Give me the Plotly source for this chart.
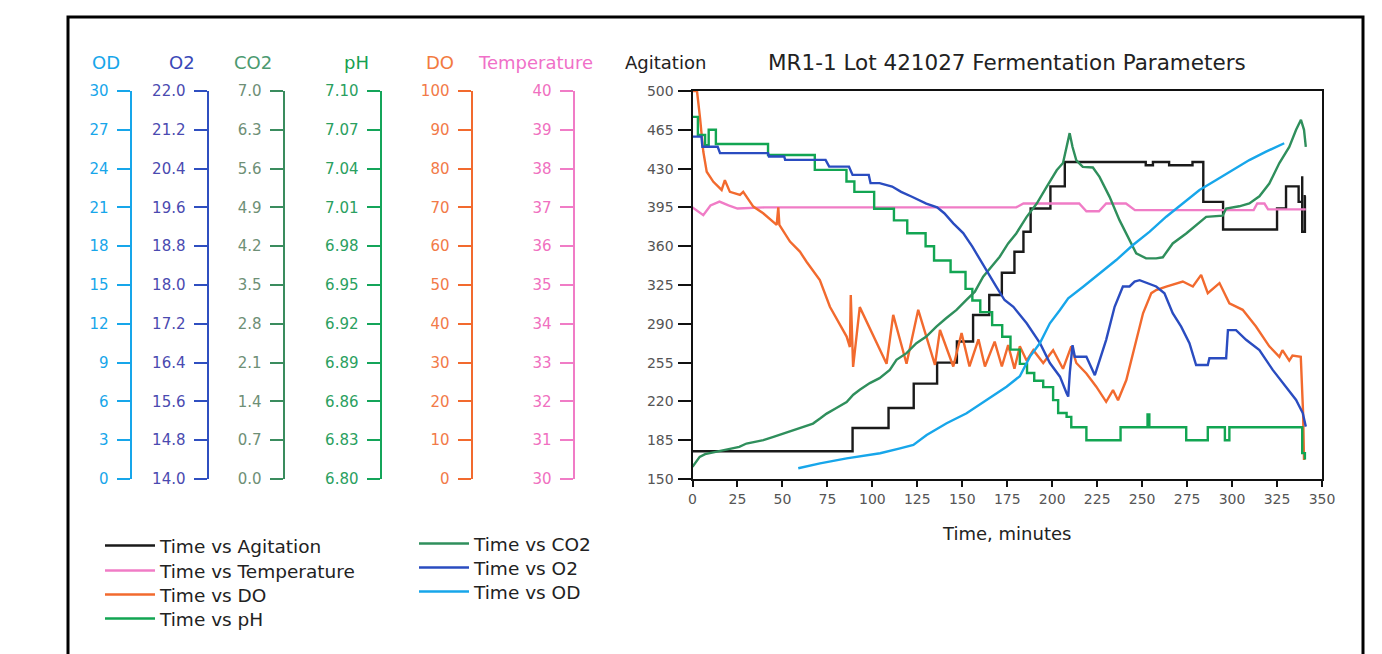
import plotly.graph_objects as go

# ---------------- data ----------------
time_ticks = [0, 25, 50, 75, 100, 125, 150, 175, 200, 225, 250, 275, 300, 325, 350]

agit_ticks = [150, 185, 220, 255, 290, 325, 360, 395, 430, 465, 500]
temp_ticks = [30, 31, 32, 33, 34, 35, 36, 37, 38, 39, 40]
do_ticks = [0, 10, 20, 30, 40, 50, 60, 70, 80, 90, 100]
ph_ticks = [6.80, 6.83, 6.86, 6.89, 6.92, 6.95, 6.98, 7.01, 7.04, 7.07, 7.10]
co2_ticks = [0.0, 0.7, 1.4, 2.1, 2.8, 3.5, 4.2, 4.9, 5.6, 6.3, 7.0]
o2_ticks = [14.0, 14.8, 15.6, 16.4, 17.2, 18.0, 18.8, 19.6, 20.4, 21.2, 22.0]
od_ticks = [0, 3, 6, 9, 12, 15, 18, 21, 24, 27, 30]

agit_t = [0, 89, 109, 123, 136, 147, 156, 165, 172, 179, 184, 188, 199, 207, 252,
          256, 265, 278, 284, 295, 325, 330, 337, 339, 339, 340.5, 341]
agit_v = [175, 196, 214, 236, 255, 274, 298, 316, 336, 355, 373, 394, 414, 436, 433,
          436, 433, 436, 400, 375, 394, 414, 400, 423, 373, 405, 405]

temp_t = [0, 3, 6, 10, 15, 20, 25, 40, 100, 160, 180, 184, 215, 219, 226,
          230, 241, 246, 280, 312, 314, 318, 320, 341]
temp_v = [37.0, 36.9, 36.8, 37.05, 37.15, 37.05, 36.97, 37.0, 37.0, 37.0, 37.0, 37.1, 37.1, 36.9, 36.9,
          37.1, 37.1, 36.93, 36.93, 36.93, 37.1, 37.1, 36.95, 36.95]

do_t = [0, 2.5, 4.2, 5.1, 6, 7.9, 11.6, 16.2, 18, 20.8, 26.4, 28.2, 33.8, 39.3, 46.8, 47.7, 48.3,
        54.2, 59.7, 63.4, 70.8, 76.4, 85.7, 87.5, 88, 89.3, 93, 107.9, 111.6, 119, 125.5, 134.8, 137.6,
        145, 149.6, 154, 159, 162.6, 168, 172, 175.5, 179, 182, 185.8, 189.5, 195, 200.5, 206,
        210.6, 213.4, 219, 224.5, 230, 233.8, 236.6, 241.2, 245.8, 250.5, 255.1, 257.8, 263.4,
        272.6, 278.2, 282.8, 286.5, 293, 298.5, 305.9, 313.3, 320.7, 326.3, 328, 331.8, 333.6,
        338.2, 339.5, 340, 340.5]
do_v = [100, 100, 93, 88.7, 84.4, 79.2, 76.6, 74.5, 77, 74, 73.2, 74, 70.2, 68.5, 65.5, 70, 65.5,
        61.2, 58.6, 56, 51.3, 44.4, 36.7, 34, 47.4, 28.9, 44.3, 29.7, 42.3, 29.7, 43.6, 29.4, 38.4,
        29.0, 37.6, 29.0, 36.0, 29.0, 35.4, 29.0, 34.5, 28.4, 34.2, 30.5, 33.2, 29.9, 33.2, 28.4,
        34.2, 29.9, 27.2, 23.8, 19.9, 22.9, 20.3, 25.5, 34.1, 42.7, 47.9, 48.7, 49.6,
        50.9, 49.6, 52.6, 47.9, 50.5, 45.3, 43.6, 39.3, 34.2, 31.5, 33.2, 30.5, 31.8,
        31.5, 16.9, 4.9, 7.0]

ph_t = [0, 3, 7, 9, 13, 42, 68, 85.6, 90, 101, 112, 119.4, 129.6, 134.3, 143.5,
        151.8, 155.6, 160, 166.6, 172.2, 176.8, 182, 186, 190, 195, 200.5, 203.3, 208, 210.6, 219,
        238, 253, 254, 274.5, 286.5, 296, 298.5, 339, 340.5]
ph_v = [7.080, 7.066, 7.058, 7.070, 7.059, 7.0505, 7.039, 7.030, 7.022, 7.009, 7.000, 6.990, 6.980, 6.969, 6.960,
        6.947, 6.938, 6.929, 6.919, 6.910, 6.900, 6.889, 6.882, 6.876, 6.871, 6.861, 6.851, 6.848, 6.840, 6.830,
        6.840, 6.850, 6.840, 6.830, 6.840, 6.830, 6.840, 6.820, 6.815]

co2_t = [0, 4, 7, 17, 26, 30, 39.4, 45, 50.5, 56, 61.6, 67, 70.9, 74.6, 80,
         85.7, 89.4, 93, 98.6, 104, 109.7, 113.4, 119, 124.5, 130, 135.6, 141, 146.8, 152.3, 157,
         161.6, 166.2, 170.8, 175.5, 180, 185.8, 191.4, 196.9, 202.5, 206, 208, 209.7, 211.3, 213.4, 217,
         222.6, 226.3, 231.9, 237.4, 243, 246.7, 252.2, 257.8, 261.5, 267, 274.5, 281.9, 285.6, 294.8, 296.7,
         304, 309.6, 315.2, 320.7, 326.3, 331.8, 335.6, 338.3, 340, 341]
co2_v = [0.22, 0.40, 0.45, 0.52, 0.58, 0.64, 0.70, 0.76, 0.82, 0.88, 0.94, 1.00, 1.09, 1.18, 1.28,
         1.39, 1.52, 1.61, 1.73, 1.82, 1.97, 2.15, 2.27, 2.45, 2.57, 2.75, 2.90, 3.05, 3.23, 3.38,
         3.65, 3.83, 4.01, 4.25, 4.43, 4.73, 4.97, 5.27, 5.57, 5.70, 5.99, 6.24, 5.99, 5.75, 5.63,
         5.62, 5.45, 5.09, 4.67, 4.31, 4.07, 3.98, 3.98, 4.00, 4.25, 4.43, 4.64, 4.73, 4.75, 4.88,
         4.92, 4.97, 5.10, 5.33, 5.70, 5.99, 6.30, 6.48, 6.30, 5.99]

o2_t = [0, 5, 5.5, 14, 15.3, 42, 42.5, 51, 51.5, 74, 76, 87, 89, 98, 99,
        104, 111, 116, 122, 130, 136, 140, 145, 150.5, 155.6, 160, 164.3, 168.8,
        173.5, 178.4, 185.8, 193.2, 198.7, 204.3, 208, 208.9, 209.8, 211.3, 212.6, 219, 223.7, 225.4, 230,
        234.7, 239.3, 243, 245.8, 248.6, 257.8, 262.4, 267, 271.7, 276.3, 280, 286.5, 287.4, 296.7, 297.7,
        302.2, 307.8, 315.2, 322.6, 330, 335.6, 339.3, 341]
o2_v = [21.06, 21.06, 20.85, 20.85, 20.72, 20.72, 20.65, 20.65, 20.58, 20.58, 20.44, 20.44, 20.27, 20.27, 20.10,
        20.10, 20.03, 19.92, 19.82, 19.68, 19.60, 19.48, 19.27, 19.07, 18.79, 18.51, 18.24, 17.97,
        17.69, 17.55, 17.21, 16.80, 16.39, 16.11, 15.77, 15.70, 16.20, 16.76, 16.52, 16.52, 16.14, 16.35, 16.87,
        17.55, 17.97, 17.97, 18.07, 18.10, 17.97, 17.83, 17.42, 17.14, 16.80, 16.35, 16.35, 16.49, 16.49, 17.07,
        17.07, 16.87, 16.66, 16.25, 15.90, 15.63, 15.36, 15.08]

od_t = [58.8, 70.9, 85.7, 104.3, 115.4, 122.8, 130.2, 141.3, 152.4, 163.5, 174.6, 182, 187.6, 193.1, 198.7,
        204.3, 208.9, 217.2, 226.5, 235.6, 244.9, 254.2, 263.4, 272.6, 281.9, 291.2, 300.4, 309.6, 318.9, 329]
od_v = [0.83, 1.21, 1.60, 1.99, 2.37, 2.63, 3.40, 4.31, 5.08, 6.11, 7.14, 7.95, 9.46, 10.49, 12.04,
        13.07, 13.97, 14.87, 15.90, 16.93, 18.09, 19.12, 20.28, 21.32, 22.35, 23.12, 23.89, 24.66, 25.31, 25.96]

# ---------------- styling / layout helpers ----------------
W, H = 1382, 654
FONT = "DejaVu Sans"


def fx(p):
    return p / W


def fy(p):
    return 1 - p / H


C_AGIT = "#1a1a1a"
C_TEMP = "#f07cc6"
C_DO = "#f26a2e"
C_PH = "#12a552"
C_CO2 = "#2f8f5c"
C_O2 = "#2a4cc0"
C_OD = "#17a6ea"

fig = go.Figure()

# (name, t, v, color, y-axis, legend id, line shape, legend line-left px, legend row centre px)
series = [
    ("Time vs Agitation", agit_t, agit_v, C_AGIT, "y", "legend", "hv", 100, 545),
    ("Time vs Temperature", temp_t, temp_v, C_TEMP, "y2", "legend2", "linear", 100, 570),
    ("Time vs DO", do_t, do_v, C_DO, "y3", "legend3", "linear", 100, 594),
    ("Time vs pH", ph_t, ph_v, C_PH, "y4", "legend4", "hv", 100, 618),
    ("Time vs CO2", co2_t, co2_v, C_CO2, "y5", "legend5", "linear", 414, 543),
    ("Time vs O2", o2_t, o2_v, C_O2, "y6", "legend6", "linear", 414, 567),
    ("Time vs OD", od_t, od_v, C_OD, "y7", "legend7", "linear", 414, 591),
]
legends = {}
for name, t, v, color, yax, leg, shape, lx, ly in series:
    fig.add_trace(go.Scatter(x=t, y=v, mode="lines", name=name, yaxis=yax, legend=leg,
                             line=dict(color=color, width=2.4, shape=shape)))
    legends[leg] = dict(x=fx(lx), y=fy(ly - 18), xanchor="left", yanchor="top",
                        bgcolor="rgba(0,0,0,0)", itemwidth=50,
                        font=dict(family=FONT, size=18.5, color="#222"))

ydom = [fy(479), fy(91)]


def free_axis(ticks, fmt, pos, line_color, label_color):
    return dict(range=[ticks[0], ticks[-1]], tickvals=ticks,
                ticktext=[format(t, fmt) for t in ticks],
                anchor="free", overlaying="y", side="left", position=pos,
                showline=True, linewidth=2, linecolor=line_color,
                ticks="outside", ticklen=13, tickwidth=2, tickcolor=line_color,
                tickfont=dict(family=FONT, size=15, color=label_color),
                ticklabelstandoff=5,
                showgrid=False, zeroline=False, automargin=False, domain=ydom)


fig.update_layout(
    width=W, height=H,
    margin=dict(l=0, r=0, t=0, b=0),
    paper_bgcolor="white", plot_bgcolor="white",
    font=dict(family=FONT, color="#222"),
    showlegend=True,
    xaxis=dict(domain=[fx(692.5), fx(1322)], range=[0, 350], tickvals=time_ticks,
               ticks="outside", ticklen=6, tickwidth=2, tickcolor="#111",
               showline=True, linewidth=2, linecolor="#111", mirror=True,
               showgrid=False, zeroline=False, automargin=False,
               tickfont=dict(family=FONT, size=14, color="#555"),
               title=dict(text="Time, minutes", font=dict(family=FONT, size=18, color="#222"), standoff=22)),
    yaxis=dict(domain=ydom, range=[150, 500], tickvals=agit_ticks,
               ticks="outside", ticklen=13, tickwidth=2, tickcolor="#111",
               showline=True, linewidth=2, linecolor="#111", mirror=True,
               showgrid=False, zeroline=False, automargin=False,
               tickfont=dict(family=FONT, size=14, color="#555"), ticklabelstandoff=1),
    yaxis2=free_axis(temp_ticks, "d", fx(573.5), "#f07cc6", "#f070c0"),
    yaxis3=free_axis(do_ticks, "d", fx(471.5), "#f26a2e", "#f27a48"),
    yaxis4=free_axis(ph_ticks, ".2f", fx(380.5), "#14a55a", "#2aa060"),
    yaxis5=free_axis(co2_ticks, ".1f", fx(283.5), "#3a8c5e", "#6e8f76"),
    yaxis6=free_axis(o2_ticks, ".1f", fx(207.5), "#2f4fc0", "#4a4ab0"),
    yaxis7=free_axis(od_ticks, "d", fx(130.5), "#17a6ea", "#17a6ea"),
    **legends,
)

# axis titles and chart title
titles = [("OD", 106, C_OD), ("O2", 182, "#3a48b8"), ("CO2", 253, "#4c9a70"), ("pH", 356, "#16a050"),
          ("DO", 440, "#f27a40"), ("Temperature", 535, "#f070c8"), ("Agitation", 665, "#222")]
for txt, xpix, col in titles:
    fig.add_annotation(text=txt, x=fx(xpix), y=fy(63), xref="paper", yref="paper",
                       xanchor="center", yanchor="middle", showarrow=False,
                       font=dict(family=FONT, size=18, color=col))
fig.add_annotation(text="MR1-1 Lot 421027 Fermentation Parameters", x=fx(1007), y=fy(63),
                   xref="paper", yref="paper", xanchor="center", yanchor="middle", showarrow=False,
                   font=dict(family=FONT, size=21.5, color="#222"))

# outer frame
fig.add_shape(type="rect", xref="paper", yref="paper", x0=fx(68), x1=fx(1363), y0=fy(17), y1=-0.2,
              line=dict(color="black", width=3), fillcolor="rgba(0,0,0,0)")

fig.write_html("out.html", config={"displayModeBar": False},
               post_script="document.body.style.margin='0';document.body.style.overflow='hidden';")
